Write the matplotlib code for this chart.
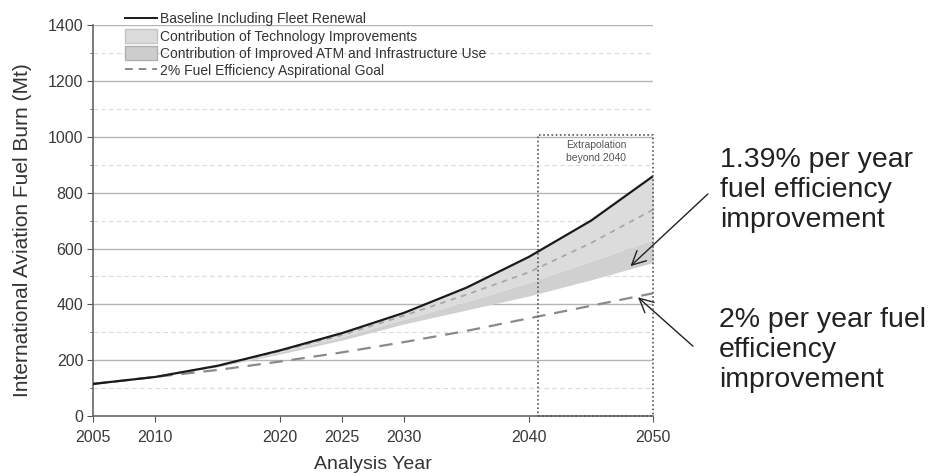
import numpy as np
import matplotlib.pyplot as plt
from matplotlib.patches import Rectangle, Patch
from matplotlib.lines import Line2D

plt.rcParams["font.family"] = ["Liberation Sans", "DejaVu Sans"]

years = [2005, 2010, 2015, 2020, 2025, 2030, 2035, 2040, 2045, 2050]
baseline = [115, 140, 180, 235, 297, 370, 460, 570, 700, 860]
tech_lower = [115, 140, 178, 229, 284, 347, 410, 478, 555, 632]
atm_lower = [115, 140, 176, 222, 272, 330, 380, 430, 488, 550]
trend_139 = [115, 140, 179, 232, 290, 360, 435, 515, 620, 740]
goal_2pct = [115, 140, 165, 195, 228, 265, 305, 350, 395, 440]

xticks = [2005, 2010, 2020, 2025, 2030, 2040, 2050]

fig = plt.figure(figsize=(9.36, 4.76), dpi=100)
ax = fig.add_axes([0.0994, 0.126, 0.5986, 0.821])

# grid
for v in range(200, 1401, 200):
    ax.axhline(v, color="#b4b4b4", lw=1.0, zorder=0)
for v in range(100, 1400, 200):
    ax.axhline(v, color="#dadada", lw=0.8, ls=(0, (4, 3)), zorder=0)

ax.fill_between(years, atm_lower, tech_lower, color="#d0d0d0", lw=0, zorder=1)
ax.fill_between(years, tech_lower, baseline, color="#dcdcdc", lw=0, zorder=1)
ax.plot(years, trend_139, color="#a8a8a8", lw=1.3, ls=(0, (3, 3)), zorder=2)
ax.plot(years, goal_2pct, color="#8a8a8a", lw=1.6, ls=(0, (6, 4)), zorder=2)
ax.plot(years, baseline, color="#1a1a1a", lw=1.6, zorder=3)

# extrapolation box
ax.add_patch(Rectangle((2040.7, 0), 2050 - 2040.7, 1006, fill=False,
                       ec="#555555", lw=1.2, ls=(0, (1, 1.5)), zorder=4,
                       clip_on=False))
ax.text(2045.4, 990, "Extrapolation\nbeyond 2040", ha="center", va="top",
        fontsize=7.5, color="#555555", linespacing=1.4)

ax.set_xlim(2005, 2050)
ax.set_ylim(0, 1400)
ax.set_xticks(xticks)
ax.set_yticks(range(0, 1401, 200))
ax.set_yticks(range(100, 1400, 200), minor=True)
ax.tick_params(axis="both", labelsize=11.5, colors="#555555", labelcolor="#3a3a3a",
               direction="out", length=4, pad=3)
ax.tick_params(axis="x", pad=6)
ax.tick_params(axis="y", which="minor", length=2.5, colors="#555555")
for s in ["top", "right"]:
    ax.spines[s].set_visible(False)
for s in ["left", "bottom"]:
    ax.spines[s].set_color("#666666")
    ax.spines[s].set_linewidth(1.2)
ax.set_xlabel("Analysis Year", fontsize=14, color="#333333")
ax.set_ylabel("International Aviation Fuel Burn (Mt)", fontsize=15, color="#333333")
ax.xaxis.set_label_coords(0.5, -40 / 391, transform=ax.transAxes)
ax.yaxis.set_label_coords(-61 / 560, (416 - 230) / 391, transform=ax.transAxes)

handles = [Line2D([], [], color="#1a1a1a", lw=1.4),
           Patch(fc="#dcdcdc", ec="#c4c4c4"),
           Patch(fc="#cdcdcd", ec="#b0b0b0"),
           Line2D([], [], color="#8a8a8a", lw=1.4, ls=(0, (4, 3)))]
labels = ["Baseline Including Fleet Renewal",
          "Contribution of Technology Improvements",
          "Contribution of Improved ATM and Infrastructure Use",
          "2% Fuel Efficiency Aspirational Goal"]
leg = fig.legend(handles, labels, loc="upper left",
                 bbox_to_anchor=(125 / 936, 1 - 12 / 476),
                 fontsize=10, frameon=False, handlelength=2.3, handleheight=1.1,
                 labelspacing=0.2, handletextpad=0.25, borderaxespad=0,
                 borderpad=0)
for t in leg.get_texts():
    t.set_color("#333333")

fig.text(720 / 936, 1 - 190 / 476, "1.39% per year\nfuel efficiency\nimprovement",
         fontsize=20.5, color="#222222", va="center", ha="left", linespacing=1.2)
fig.text(719 / 936, 1 - 350 / 476, "2% per year fuel\nefficiency\nimprovement",
         fontsize=20.5, color="#222222", va="center", ha="left", linespacing=1.2)

ax.annotate("", xy=(2048.0, 530), xytext=(710 / 936, 1 - 192 / 476),
            textcoords="figure fraction",
            arrowprops=dict(arrowstyle="->,head_length=1.0,head_width=0.5",
                            color="#222222", lw=1.0))
ax.annotate("", xy=(2048.6, 432), xytext=(695 / 936, 1 - 348 / 476),
            textcoords="figure fraction",
            arrowprops=dict(arrowstyle="->,head_length=1.0,head_width=0.5",
                            color="#222222", lw=1.0))

fig.savefig("out.png", dpi=100)
